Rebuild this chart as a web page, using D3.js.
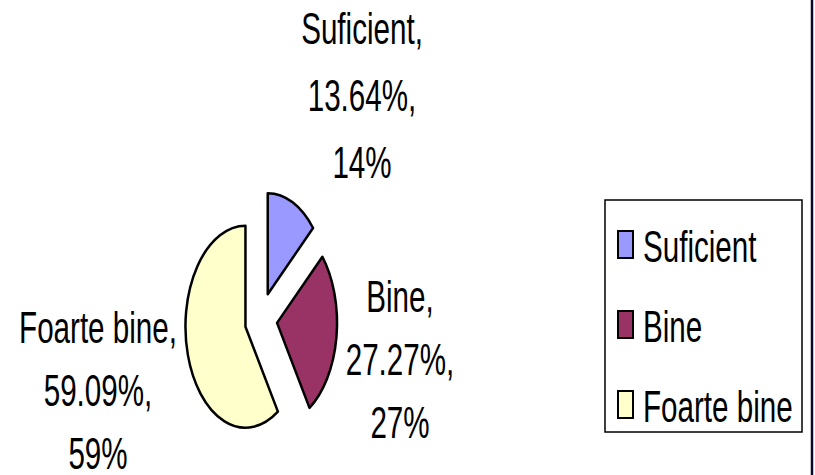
<!DOCTYPE html>
<html><head><meta charset="utf-8">
<script src="https://cdn.jsdelivr.net/npm/d3@7"></script>
<style>
html,body{margin:0;padding:0;background:#fff;}
svg{display:block;}
text{font-family:"Liberation Sans Narrow","Arial Narrow","Liberation Sans",Arial,sans-serif;fill:#000;}
</style></head>
<body>
<svg id="chart" width="815" height="475"></svg>
<script>
const categories = ["Suficient", "Bine", "Foarte bine"];
const counts = [3, 6, 13];
const pctLabels = ["13.64%", "27.27%", "59.09%"];
const roundLabels = ["14%", "27%", "59%"];
const colors = ["#9999FF", "#993366", "#FFFFCC"];

const svg = d3.select("#chart");
const W = 815, H = 475;
const fontSize = 37, stretchY = 1.18, squeezeX = 0.8;

// right border
svg.append("line").attr("x1", 812).attr("x2", 812).attr("y1", 0).attr("y2", H)
  .attr("stroke", "#0a0a2a").attr("stroke-width", 2.5);

// pie (elliptical, exploded)
const cx = 261, cy = 319, rx = 60, ry = 101, explode = 0.27;
const pie = d3.pie().sort(null).value(d => d);
const arcs = pie(counts);
const arc = d3.arc().innerRadius(0).outerRadius(1);
const g = svg.append("g");
arcs.forEach((a, i) => {
  const mid = (a.startAngle + a.endAngle) / 2;
  const ox = Math.sin(mid) * explode, oy = -Math.cos(mid) * explode;
  g.append("path")
    .attr("d", arc(a))
    .attr("transform", `translate(${cx},${cy}) scale(${rx},${ry}) translate(${ox},${oy})`)
    .attr("fill", colors[i])
    .attr("stroke", "#000")
    .attr("stroke-width", 2.5)
    .attr("stroke-linejoin", "round")
    .attr("vector-effect", "non-scaling-stroke");
});

// data labels
const labelPos = [
  {x: 362, ys: [44, 111, 178]},
  {x: 400, ys: [312, 375, 438]},
  {x: 98, ys: [343, 406, 469]}
];
categories.forEach((c, i) => {
  const lines = [c + ",", pctLabels[i] + ",", roundLabels[i]];
  lines.forEach((t, j) => {
    svg.append("text")
      .attr("transform", `translate(${labelPos[i].x},${labelPos[i].ys[j]}) scale(${squeezeX},${stretchY})`)
      .attr("text-anchor", "middle")
      .attr("font-size", fontSize)
      .text(t);
  });
});

// legend
const lg = svg.append("g");
lg.append("rect").attr("x", 605).attr("y", 200).attr("width", 197).attr("height", 232)
  .attr("fill", "#fff").attr("stroke", "#000").attr("stroke-width", 1.5);
categories.forEach((c, i) => {
  const y0 = 230 + i * 80;
  lg.append("rect").attr("x", 618).attr("y", y0 + 1).attr("width", 15).attr("height", 27)
    .attr("fill", colors[i]).attr("stroke", "#000").attr("stroke-width", 2);
  lg.append("text")
    .attr("transform", `translate(643,${y0 + 32}) scale(${squeezeX},${stretchY})`)
    .attr("font-size", fontSize)
    .text(c);
});
</script>
</body></html>
